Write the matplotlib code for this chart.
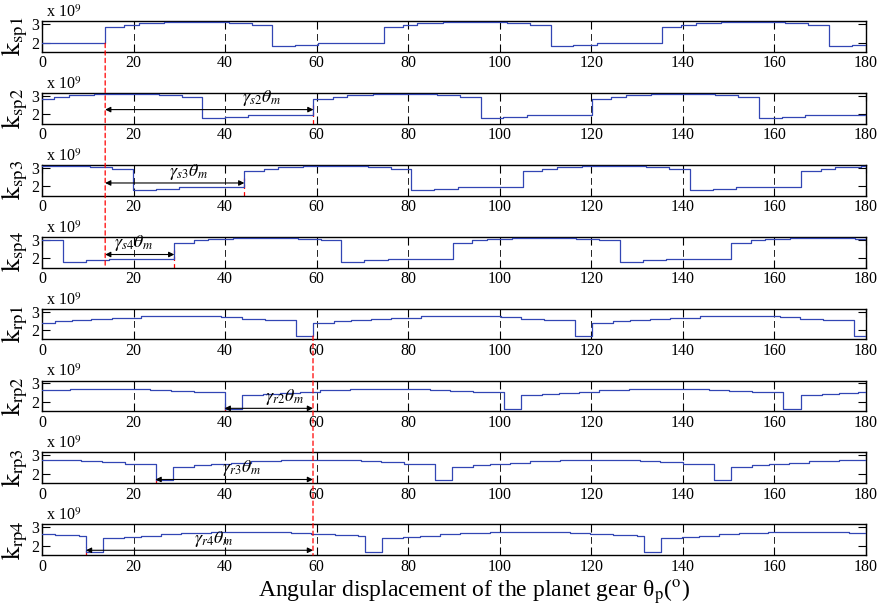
import matplotlib
matplotlib.use("Agg")
import matplotlib.pyplot as plt
from matplotlib.patches import ConnectionPatch

plt.rcParams["font.family"] = ["Liberation Serif", "DejaVu Serif"]
plt.rcParams["mathtext.fontset"] = "stix"

# ---------------------------------------------------------------------------
# Time-varying mesh stiffness (x 1e9 N/m) over one half-turn of the planet.
# Each series is a step function: value k[i] holds from angle[i] to angle[i+1].
# ---------------------------------------------------------------------------
theta_end = 180.0
x_ticks = [0, 20, 40, 60, 80, 100, 120, 140, 160, 180]
y_ticks = [2, 3]

ksp1_angle = [0, 13.8, 18.0, 21.2, 26.7, 40.8, 45.8, 50.3, 55.3, 60.4,
              74.6, 78.8, 82.0, 87.5, 101.6, 106.6, 111.1, 116.1, 121.2,
              135.4, 139.6, 142.8, 148.3, 162.4, 167.4, 171.9, 176.9]
ksp1_k = [1.96, 2.84, 2.96, 3.04, 3.09, 3.04, 2.96, 1.81, 1.88, 1.96,
          2.84, 2.96, 3.04, 3.09, 3.04, 2.96, 1.81, 1.88, 1.96,
          2.84, 2.96, 3.04, 3.09, 3.04, 2.96, 1.81, 1.88]

ksp2_angle = [0, 2.7, 5.9, 11.4, 25.5, 30.5, 35.0, 40.0, 45.1,
              59.3, 63.5, 66.7, 72.2, 86.3, 91.3, 95.8, 100.8, 105.9,
              120.1, 124.3, 127.5, 133.0, 147.1, 152.1, 156.6, 161.6, 166.7]
ksp2_k = [2.84, 2.96, 3.04, 3.09, 3.04, 2.96, 1.81, 1.88, 1.96,
          2.84, 2.96, 3.04, 3.09, 3.04, 2.96, 1.81, 1.88, 1.96,
          2.84, 2.96, 3.04, 3.09, 3.04, 2.96, 1.81, 1.88, 1.96]

ksp3_angle = [0, 10.4, 15.4, 19.9, 24.9, 30.0,
              44.2, 48.4, 51.6, 57.1, 71.2, 76.2, 80.7, 85.7, 90.8,
              105.0, 109.2, 112.4, 117.9, 132.0, 137.0, 141.5, 146.5, 151.6,
              165.9, 170.1, 173.3, 178.8]
ksp3_k = [3.09, 3.04, 2.96, 1.81, 1.88, 1.96,
          2.84, 2.96, 3.04, 3.09, 3.04, 2.96, 1.81, 1.88, 1.96,
          2.84, 2.96, 3.04, 3.09, 3.04, 2.96, 1.81, 1.88, 1.96,
          2.84, 2.96, 3.04, 3.09]

ksp4_angle = [0, 4.6, 9.6, 14.7,
              28.9, 33.1, 36.3, 41.8, 55.9, 60.9, 65.4, 70.4, 75.5,
              89.7, 93.9, 97.1, 102.6, 116.7, 121.7, 126.3, 131.3, 136.4,
              150.6, 154.8, 158.0, 163.5, 177.6]
ksp4_k = [2.96, 1.81, 1.88, 1.96,
          2.84, 2.96, 3.04, 3.09, 3.04, 2.96, 1.81, 1.88, 1.96,
          2.84, 2.96, 3.04, 3.09, 3.04, 2.96, 1.81, 1.88, 1.96,
          2.84, 2.96, 3.04, 3.09, 3.04]

krp1_angle = [0, 2.8, 6.5, 10.8, 15.2, 21.7, 39.2, 43.6, 48.7, 53.8, 55.4,
              59.2, 63.8, 67.5, 71.8, 76.2, 82.7, 100.2, 104.6, 109.7, 114.8, 116.4,
              120.2, 124.8, 128.5, 132.8, 137.2, 143.7, 161.2, 165.6, 170.7, 175.8, 177.4]
krp1_k = [2.40, 2.47, 2.54, 2.60, 2.67, 2.74, 2.69, 2.62, 2.56, 2.53, 1.68,
          2.40, 2.47, 2.54, 2.60, 2.67, 2.74, 2.69, 2.62, 2.56, 2.53, 1.68,
          2.40, 2.47, 2.54, 2.60, 2.67, 2.74, 2.69, 2.62, 2.56, 2.53, 1.68]

krp2_angle = [0, 6.2, 23.7, 28.1, 33.2, 38.3, 39.9,
              43.7, 48.3, 52.0, 56.3, 60.7, 67.2, 84.7, 89.1, 94.2, 99.3, 100.9,
              104.7, 109.3, 113.0, 117.3, 121.7, 128.2, 145.7, 150.1, 155.2, 160.3, 161.9,
              165.7, 170.3, 174.0, 178.3]
krp2_k = [2.64, 2.70, 2.66, 2.60, 2.55, 2.52, 1.62,
          2.36, 2.43, 2.50, 2.56, 2.63, 2.70, 2.66, 2.60, 2.55, 2.52, 1.62,
          2.36, 2.43, 2.50, 2.56, 2.63, 2.70, 2.66, 2.60, 2.55, 2.52, 1.62,
          2.36, 2.43, 2.50, 2.56]

krp3_angle = [0, 8.6, 13.0, 18.1, 23.2, 24.8,
              28.6, 33.2, 36.9, 41.2, 45.6, 52.1, 69.6, 74.0, 79.1, 84.2, 85.8,
              89.6, 94.2, 97.9, 102.2, 106.6, 113.1, 130.6, 135.0, 140.1, 145.2, 146.8,
              150.6, 155.2, 158.9, 163.2, 167.6, 174.1]
krp3_k = [2.74, 2.69, 2.62, 2.56, 2.53, 1.68,
          2.38, 2.46, 2.54, 2.60, 2.67, 2.74, 2.69, 2.62, 2.56, 2.53, 1.68,
          2.38, 2.46, 2.54, 2.60, 2.67, 2.74, 2.69, 2.62, 2.56, 2.53, 1.68,
          2.38, 2.46, 2.54, 2.60, 2.67, 2.74]

krp4_angle = [0, 2.9, 8.0, 9.6,
              13.4, 18.0, 21.7, 26.0, 30.4, 36.9, 54.4, 58.8, 63.9, 69.0, 70.5,
              74.3, 78.9, 82.6, 86.9, 91.3, 97.8, 115.3, 119.7, 124.8, 129.9, 131.4,
              135.2, 139.8, 143.5, 147.8, 152.2, 158.7, 176.2]
krp4_k = [2.64, 2.58, 2.55, 1.66,
          2.40, 2.48, 2.55, 2.62, 2.68, 2.76, 2.71, 2.64, 2.58, 2.55, 1.66,
          2.40, 2.48, 2.55, 2.62, 2.68, 2.76, 2.71, 2.64, 2.58, 2.55, 1.66,
          2.40, 2.48, 2.55, 2.62, 2.68, 2.76, 2.71]

series = [
    ("sp1", ksp1_angle, ksp1_k),
    ("sp2", ksp2_angle, ksp2_k),
    ("sp3", ksp3_angle, ksp3_k),
    ("sp4", ksp4_angle, ksp4_k),
    ("rp1", krp1_angle, krp1_k),
    ("rp2", krp2_angle, krp2_k),
    ("rp3", krp3_angle, krp3_k),
    ("rp4", krp4_angle, krp4_k),
]

# Phase markers: reference angles and the shifted mesh events
sun_ref = ksp1_angle[1]          # first engagement of sun-planet mesh 1
ring_ref = krp1_angle[11]        # end of first ring-planet 1 drop
phase_sun = {1: (ksp2_angle[9], r"$\gamma_{s2}\theta_m$", 2.26, 48.0),
             2: (ksp3_angle[6], r"$\gamma_{s3}\theta_m$", 2.18, 32.0),
             3: (ksp4_angle[4], r"$\gamma_{s4}\theta_m$", 2.20, 20.0)}
phase_ring = {5: (krp2_angle[6], r"$\gamma_{r2}\theta_m$", 1.66, 53.0),
              6: (krp3_angle[5], r"$\gamma_{r3}\theta_m$", 1.70, 43.5),
              7: (krp4_angle[3], r"$\gamma_{r4}\theta_m$", 1.76, 37.5)}

y_lim = (1.5, 3.16)
line_color = "#3246b4"

W, H = 879, 608
fig = plt.figure(figsize=(W / 100, H / 100), dpi=100)

left_px, right_px = 42, 866
top0_px, pitch_px, height_px = 21.0, 71.9, 30.8

axes = []
for i, (name, ang, k) in enumerate(series):
    top = top0_px + i * pitch_px
    ax = fig.add_axes([left_px / W, 1 - (top + height_px) / H,
                       (right_px - left_px) / W, height_px / H])
    axes.append(ax)
    ax.plot(list(ang) + [theta_end], list(k) + [k[-1]], drawstyle="steps-post",
            color=line_color, lw=0.9, zorder=3)
    ax.set_xlim(0, theta_end)
    ax.set_ylim(*y_lim)
    ax.set_xticks(x_ticks)
    ax.set_yticks(y_ticks)
    ax.tick_params(direction="in", top=True, right=True, length=5.5, width=0.8,
                   labelsize=11.5, pad=2.5)
    ax.tick_params(axis="y", pad=2)
    ax.xaxis.grid(True, color="#222222", lw=0.7, linestyle=(0, (7, 5)))
    for s in ax.spines.values():
        s.set_linewidth(1.0)
    ax.set_ylabel(r"$\mathrm{k_{%s}}$" % name, fontsize=19)
    ax.yaxis.set_label_coords(-0.015, 0.5)
    ax.text(0.005, 1.0, r"x 10$^{9}$", transform=ax.transAxes, fontsize=11.5,
            ha="left", va="bottom")

arrow_kw = dict(arrowstyle="<|-|>", color="black", lw=0.8,
                mutation_scale=8, shrinkA=0, shrinkB=0)
red_kw = dict(color="red", lw=0.9, linestyle=(0, (3.5, 2.5)))

# sun-planet phase differences, measured from mesh 1 engagement
for idx, (x_end, label, y_arr, x_lab) in phase_sun.items():
    ax = axes[idx]
    ax.plot([x_end, x_end], [y_lim[0], y_arr + 0.25], zorder=2, **red_kw)
    ax.annotate("", xy=(x_end, y_arr), xytext=(sun_ref, y_arr),
                arrowprops=arrow_kw, zorder=4)
    ax.text(x_lab, y_arr + 0.06, label, fontsize=13, ha="center", va="bottom")

# ring-planet phase differences, measured to mesh 1 drop end
for idx, (x_start, label, y_arr, x_lab) in phase_ring.items():
    ax = axes[idx]
    ax.plot([x_start, x_start], [y_lim[0], y_arr + 0.2], zorder=2, **red_kw)
    ax.annotate("", xy=(ring_ref, y_arr), xytext=(x_start, y_arr),
                arrowprops=arrow_kw, zorder=4)
    ax.text(x_lab, y_arr + 0.08, label, fontsize=13, ha="center", va="bottom")

# long reference lines spanning several panels
con1 = ConnectionPatch(xyA=(sun_ref, ksp1_k[0]), coordsA=axes[0].transData,
                       xyB=(sun_ref, y_lim[0]), coordsB=axes[3].transData,
                       **red_kw)
con2 = ConnectionPatch(xyA=(ring_ref, krp1_k[10]), coordsA=axes[4].transData,
                       xyB=(ring_ref, y_lim[0]), coordsB=axes[7].transData,
                       **red_kw)
fig.add_artist(con1)
fig.add_artist(con2)

fig.text(474 / W, 1 - 592 / H,
         r"Angular displacement of the planet gear θ$_{\mathrm{p}}$($^{\mathrm{o}}$)",
         fontsize=17, ha="center", va="center")

fig.savefig("out.png", dpi=100)
